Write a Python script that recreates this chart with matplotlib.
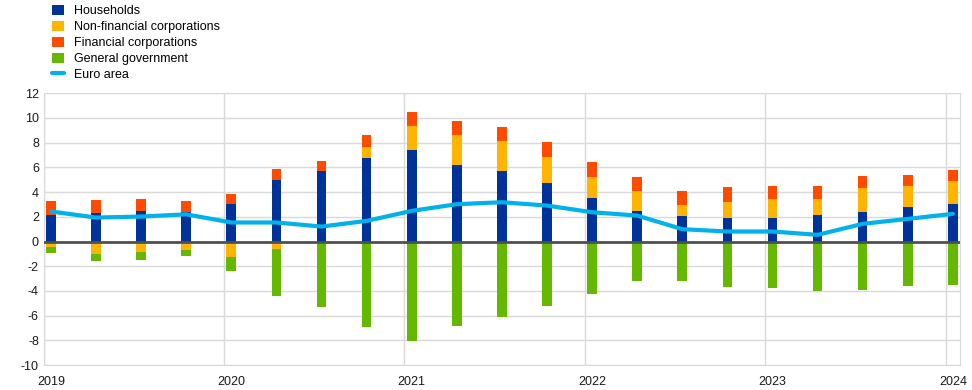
import numpy as np
import matplotlib.pyplot as plt

plt.rcParams['font.family'] = ['Liberation Sans', 'DejaVu Sans']
plt.rcParams['axes.unicode_minus'] = False

# quarterly contributions, 2019Q1 - 2024Q1
quarters = ['2019Q1', '2019Q2', '2019Q3', '2019Q4', '2020Q1', '2020Q2', '2020Q3', '2020Q4',
            '2021Q1', '2021Q2', '2021Q3', '2021Q4', '2022Q1', '2022Q2', '2022Q3', '2022Q4',
            '2023Q1', '2023Q2', '2023Q3', '2023Q4', '2024Q1']
households = [2.16, 2.32, 2.48, 2.37, 3.05, 4.99, 5.72, 6.77, 7.42, 6.20, 5.72,
              4.75, 3.53, 2.48, 2.08, 1.91, 1.91, 2.16, 2.40, 2.80, 3.05]
nonfin_corp = [-0.43, -1.00, -0.84, -0.67, -1.24, -0.59, -0.19, 0.89, 1.94, 2.43, 2.42,
               2.10, 1.70, 1.62, 0.89, 1.30, 1.54, 1.29, 1.94, 1.70, 1.86]
fin_corp = [1.13, 1.05, 0.97, 0.92, 0.81, 0.89, 0.81, 0.97, 1.13, 1.13, 1.14,
            1.21, 1.22, 1.13, 1.13, 1.21, 1.05, 1.05, 0.97, 0.89, 0.89]
gen_gov = [-0.46, -0.56, -0.64, -0.49, -1.13, -3.81, -5.15, -6.96, -8.09, -6.80, -6.15,
           -5.18, -4.23, -3.18, -3.18, -3.67, -3.75, -3.99, -3.91, -3.59, -3.51]
euro_area = [2.43, 1.94, 2.02, 2.20, 1.54, 1.54, 1.21, 1.67, 2.48, 3.02, 3.18,
             2.91, 2.37, 2.10, 1.00, 0.81, 0.81, 0.54, 1.43, 1.83, 2.24]
years = ['2019', '2020', '2021', '2022', '2023', '2024']

series = [('Households', households, '#003299'),
          ('Non-financial corporations', nonfin_corp, '#FFB400'),
          ('Financial corporations', fin_corp, '#FF4B00'),
          ('General government', gen_gov, '#65B800')]

x = np.arange(len(quarters))

fig = plt.figure(figsize=(9.72, 3.9), dpi=100)
ax = fig.add_axes([0.045, 0.064, 0.9427, 0.6968])

handles = []
pos = np.zeros(len(x))
neg = np.zeros(len(x))
for name, vals, col in series:
    v = np.array(vals)
    bottom = np.where(v >= 0, pos, neg)
    b = ax.bar(x, v, bottom=bottom, width=0.215, color=col, label=name, zorder=2)
    handles.append(b)
    pos = pos + np.where(v >= 0, v, 0)
    neg = neg + np.where(v < 0, v, 0)

ax.axhline(0, color='#505050', lw=2, zorder=3)
ln, = ax.plot(x, euro_area, color='#00B1EA', lw=3, label='Euro area', zorder=4,
              solid_joinstyle='round', solid_capstyle='round')
handles.append(ln)

ax.set_xlim(-0.16, 20.16)
ax.set_ylim(-10, 12)
ax.set_yticks(np.arange(-10, 13, 2))
ax.set_xticks(x[::4])
ax.set_xticklabels(years)
ax.set_xticks(x[::4] - 0.16, minor=True)
ax.grid(axis='y', color='#d9d9d9', lw=1, zorder=0)
ax.grid(axis='x', which='minor', color='#d9d9d9', lw=1, zorder=0)
ax.tick_params(which='both', length=0, labelsize=9, colors='#1a1a1a')
ax.tick_params(axis='x', pad=8)
for s in ax.spines.values():
    s.set_color('#d9d9d9')

fig.legend(handles=handles, loc='upper left', bbox_to_anchor=(0.053, 0.988), frameon=False,
           fontsize=9, handlelength=1.0, handleheight=0.9, handletextpad=0.8,
           labelspacing=0.28, borderaxespad=0, borderpad=0)

fig.savefig('out.png', dpi=100)
